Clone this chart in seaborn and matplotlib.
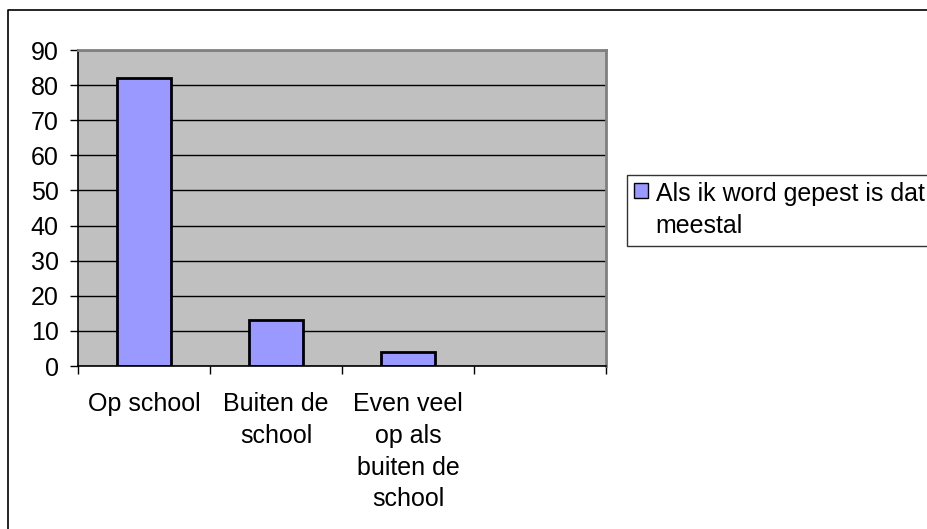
import matplotlib
matplotlib.use("Agg")
import matplotlib.pyplot as plt
from matplotlib.patches import Patch
from matplotlib.lines import Line2D
import seaborn as sns
import pandas as pd

# data
categories = ["Op school", "Buiten de\nschool", "Even veel\nop als\nbuiten de\nschool"]
values = [82, 13, 4]
empty_slot = ""          # fourth, unused category on the axis
series_label = "Als ik word gepest is dat\nmeestal"
y_ticks = [0, 10, 20, 30, 40, 50, 60, 70, 80, 90]

sns.set_style("white", {"text.color": "black", "xtick.color": "black",
                        "ytick.color": "black", "axes.labelcolor": "black"})
plt.rcParams["font.family"] = ["Liberation Sans", "DejaVu Sans"]

df = pd.DataFrame({"cat": categories, "val": values})
order = categories + [empty_slot]

W, H = 928, 529
FS = 18
fig = plt.figure(figsize=(W / 100, H / 100), dpi=100)
ax = fig.add_axes([78 / W, 1 - 366 / H, (606 - 78) / W, (366 - 50) / H])

sns.barplot(data=df, x="cat", y="val", order=order, color="#9999FF",
            width=0.41, edgecolor="black", linewidth=2, saturation=1, ax=ax)

ax.set_facecolor("#C0C0C0")
ax.set_xlim(-0.5, len(order) - 0.5)
ax.set_ylim(0, 90)
ax.set_yticks(y_ticks)
ax.yaxis.grid(True, color="black", linewidth=1)
ax.set_axisbelow(True)
ax.set_xlabel("")
ax.set_ylabel("")

for side in ["left", "bottom"]:
    ax.spines[side].set_color("black")
    ax.spines[side].set_linewidth(1.2)
for side in ["top", "right"]:
    ax.spines[side].set_color("#808080")
    ax.spines[side].set_linewidth(2)

ax.tick_params(axis="y", direction="out", length=6, width=1, color="black",
               labelcolor="black", labelsize=FS, pad=8, left=True)
ax.set_xticks(range(len(order)))
ax.set_xticklabels(order, fontsize=FS, linespacing=1.4)
ax.tick_params(axis="x", which="major", length=0, pad=19, labelcolor="black")
ax.set_xticks([i - 0.5 for i in range(len(order) + 1)], minor=True)
ax.tick_params(axis="x", which="minor", direction="out", length=6, width=1,
               color="black", bottom=True)

leg = fig.legend(handles=[Patch(facecolor="#9999FF", edgecolor="black", linewidth=1,
                                label=series_label)],
                 loc="upper left", bbox_to_anchor=(627 / W, 1 - 175 / H),
                 fontsize=FS, frameon=True, fancybox=False,
                 handlelength=0.55, handleheight=0.55, handletextpad=0.3,
                 borderpad=0.3, borderaxespad=0, labelcolor="black")
leg.get_frame().set_edgecolor("black")
leg.get_frame().set_linewidth(1)
for t in leg.get_texts():
    t.set_linespacing(1.4)
# put the swatch next to the first text line, as in the original
for col in leg._legend_handle_box.get_children():
    for item in col.get_children():
        item.align = "top"

# outer chart border (left and top edges visible)
fig.add_artist(Line2D([8 / W, 8 / W, 1], [0, 1 - 10 / H, 1 - 10 / H],
                      transform=fig.transFigure, color="black", linewidth=1.2))

fig.savefig("out.png", dpi=100)
